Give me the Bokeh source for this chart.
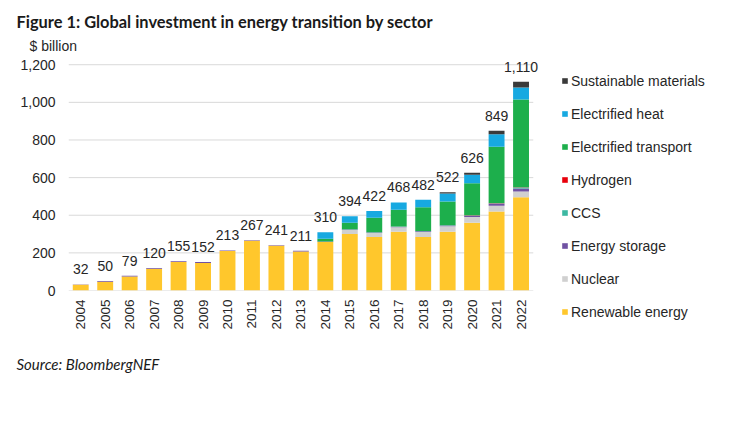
import math
from bokeh.plotting import figure
from bokeh.models import (ColumnDataSource, Range1d, FixedTicker, Title,
                          LabelSet, Legend, LegendItem, NumeralTickFormatter)
from bokeh.core.properties import value
from bokeh.embed import file_html
from bokeh.resources import INLINE

years = [str(y) for y in range(2004, 2023)]
totals = [32, 50, 79, 120, 155, 152, 213, 267, 241, 211, 310, 394, 422, 468, 482, 522, 626, 849, 1110]
total_labels = ["32", "50", "79", "120", "155", "152", "213", "267", "241", "211", "310", "394",
                "422", "468", "482", "522", "626", "849", "1,110"]

renewable = [31, 47, 75, 115, 151, 146, 210, 264, 238, 207, 258, 300, 284, 312, 284, 312, 360, 420, 495]
nuclear = [0, 0, 0, 0, 0, 0, 0, 0, 0, 0, 0, 22, 21, 24, 27, 30, 30, 30, 31]
storage = [1, 3, 4, 5, 4, 6, 3, 3, 3, 4, 2, 2, 3, 3, 4, 4, 7, 11, 16]
ccs = [0, 0, 0, 0, 0, 0, 0, 0, 0, 0, 1, 1, 1, 1, 1, 1, 2, 3, 6]
hydrogen = [0, 0, 0, 0, 0, 0, 0, 0, 0, 0, 0, 0, 0, 0, 0, 0, 0.5, 0.5, 1]
transport = [0, 0, 0, 0, 0, 0, 0, 0, 0, 0, 14, 35, 78, 89, 126, 126, 170, 300, 466]
heat = [0, 0, 0, 0, 0, 0, 0, 0, 0, 0, 35, 34, 35, 39, 40, 43, 46, 66, 64]
materials = [0, 0, 0, 0, 0, 0, 0, 0, 0, 0, 0, 0, 0, 0, 0, 6, 10, 19, 31]

series_names = ["Renewable energy", "Nuclear", "Energy storage", "CCS", "Hydrogen",
                "Electrified transport", "Electrified heat", "Sustainable materials"]
series_keys = ["renewable", "nuclear", "storage", "ccs", "hydrogen", "transport", "heat", "materials"]
colors = ["#FFC72C", "#D0D0D0", "#7052A3", "#3DB8A2", "#E8000B", "#1DAF4C", "#17A9E1", "#3A3A3A"]
y_ticks = [0, 200, 400, 600, 800, 1000, 1200]

xs = list(range(len(years)))
data = dict(x=xs, renewable=renewable, nuclear=nuclear, storage=storage, ccs=ccs,
            hydrogen=hydrogen, transport=transport, heat=heat, materials=materials)
src = ColumnDataSource(data)
lab_src = ColumnDataSource(dict(x=xs, totals=totals, text=total_labels))
grid_src = ColumnDataSource(dict(x0=[xs[0] - 0.5] * len(y_ticks), x1=[xs[-1] + 0.5] * len(y_ticks),
                                 y=y_ticks))

FONT = "Liberation Sans"
TXT = "#262626"

p = figure(x_range=Range1d(xs[0] - 0.5, xs[-1] + 1.0), y_range=Range1d(0, 1249),
           frame_width=477, frame_height=235,
           min_border_left=68, min_border_right=205, min_border_top=55, min_border_bottom=140,
           output_backend="svg", toolbar_location=None, tools="")
p.outline_line_color = None
p.background_fill_color = "white"
p.border_fill_color = "white"
p.xgrid.visible = False
p.ygrid.visible = False

p.segment(x0="x0", x1="x1", y0="y", y1="y", source=grid_src, line_color="#D9D9D9", line_width=1)
renderers = p.vbar_stack(series_keys, x="x", width=0.65, color=colors, source=src, line_width=0)

p.yaxis.ticker = FixedTicker(ticks=y_ticks)
p.yaxis.formatter = NumeralTickFormatter(format="0,0")
p.yaxis.axis_line_color = None
p.yaxis.major_tick_line_color = None
p.yaxis.minor_tick_line_color = None
p.yaxis.major_label_text_font = FONT
p.yaxis.major_label_text_font_size = "14px"
p.yaxis.major_label_text_color = TXT
p.yaxis.major_label_standoff = 7

p.xaxis.ticker = FixedTicker(ticks=xs)
p.xaxis.major_label_overrides = dict(zip(xs, years))
p.xaxis.axis_line_color = None
p.xaxis.major_tick_line_color = None
p.xaxis.minor_tick_line_color = None
p.xaxis.major_label_orientation = math.pi / 2
p.xaxis.major_label_text_font = FONT
p.xaxis.major_label_text_font_size = "13.5px"
p.xaxis.major_label_text_color = TXT
p.xaxis.major_label_standoff = 3

labels = LabelSet(x="x", y="totals", text="text", source=lab_src, text_align="center",
                  text_baseline="alphabetic", y_offset=10, text_font=value(FONT),
                  text_font_size="14px", text_color=TXT)
p.add_layout(labels)

items = [LegendItem(label=n, renderers=[r]) for n, r in zip(series_names, renderers)][::-1]
legend = Legend(items=items, location=(16, -30), border_line_color=None,
                background_fill_alpha=0, glyph_width=7, glyph_height=7, label_standoff=3,
                label_text_font=FONT, label_text_font_size="14px", label_text_color=TXT,
                label_height=17, spacing=16, margin=0, padding=0)
p.add_layout(legend, "right")

unit = Title(text="$ billion", align="left", offset=-39, standoff=4,
             text_font=FONT, text_font_size="14px", text_color=TXT, text_font_style="normal")
p.add_layout(unit, "above")
title = Title(text="Figure 1: Global investment in energy transition by sector", align="left",
              offset=-52, standoff=6, text_font="Lato", text_font_style="bold",
              text_font_size="16.4px", text_color="#1a1a1a")
p.add_layout(title, "above")
source = Title(text="Source: BloombergNEF", align="left", offset=-52, standoff=44,
               vertical_align="top", text_font="Lato", text_font_style="italic",
               text_font_size="15px", text_color="#1a1a1a")
p.add_layout(source, "below")

open("out.html", "w").write(file_html(p, INLINE))
